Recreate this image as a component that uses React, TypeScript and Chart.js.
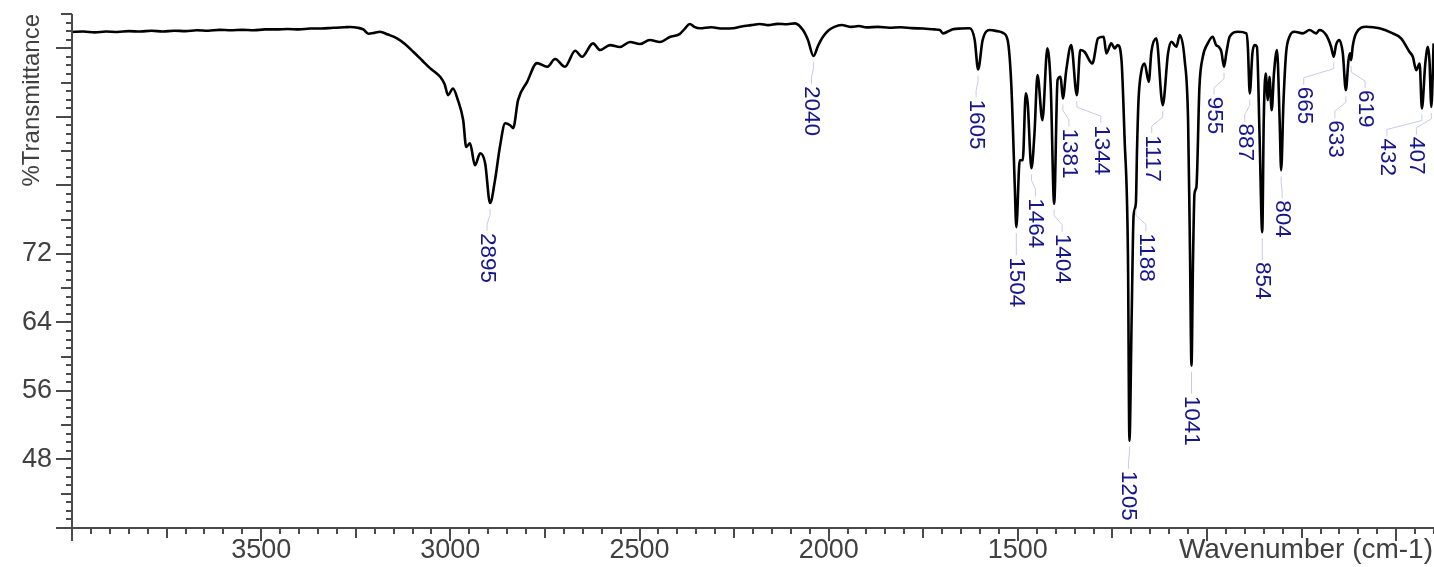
import React, { useEffect, useRef } from 'react';
import { Chart, registerables } from 'chart.js';

Chart.register(...registerables);

// ---- data ----
const wavenumbers = [
  4000, 3970, 3940, 3910, 3880, 3850, 3820, 3790, 3760, 3730, 3700, 3670, 3640, 3610, 3580, 3550, 3520, 3490,
  3460, 3430, 3400, 3370, 3340, 3310, 3280, 3265, 3245, 3230, 3217, 3200, 3186, 3165, 3141, 3120, 3098, 3075,
  3053, 3040, 3027, 3015, 3006, 2993, 2980, 2966, 2958, 2948, 2935, 2921, 2908, 2895, 2882, 2869, 2855, 2842,
  2834, 2821, 2797, 2771, 2744, 2723, 2697, 2670, 2652, 2623, 2604, 2578, 2552, 2525, 2499, 2473, 2446, 2420,
  2394, 2380, 2367, 2355, 2341, 2310, 2280, 2253, 2230, 2205, 2182, 2160, 2135, 2110, 2089, 2068, 2055, 2040,
  2028, 2015, 2000, 1985, 1966, 1940, 1920, 1900, 1870, 1840, 1810, 1780, 1750, 1720, 1706, 1698, 1685, 1672,
  1650, 1627, 1614, 1605, 1593, 1574, 1555, 1540, 1527, 1517, 1508, 1504, 1495, 1487, 1479, 1474, 1464, 1456,
  1448, 1435, 1422, 1413, 1404, 1395, 1387, 1381, 1372, 1359, 1344, 1335, 1324, 1303, 1288, 1273, 1266, 1253,
  1244, 1236, 1226, 1218, 1209, 1205, 1199, 1194, 1188, 1185, 1181, 1173, 1165, 1154, 1147, 1134, 1117, 1103,
  1094, 1081, 1072, 1059, 1050, 1045, 1041, 1037, 1033, 1028, 1020, 1011, 998, 985, 976, 969, 962, 955,
  949, 940, 918, 896, 892, 887, 880, 874, 868, 861, 854, 850, 845, 839, 835, 829, 823, 815,
  808, 804, 798, 791, 782, 769, 747, 729, 711, 703, 685, 672, 665, 659, 650, 641, 633, 626,
  622, 619, 615, 606, 579, 544, 509, 487, 465, 456, 447, 438, 432, 423, 416, 412, 407, 401,
];

const transmittance = [
  97.9, 97.95, 97.85, 97.95, 97.9, 98.0, 97.95, 98.05, 97.95, 98.05, 98.0, 98.1, 98.05, 98.15, 98.1, 98.15, 98.1, 98.2,
  98.2, 98.25, 98.2, 98.3, 98.3, 98.4, 98.45, 98.48, 98.4, 98.2, 97.7, 97.8, 97.93, 97.6, 97.16, 96.5, 95.59, 94.6,
  93.65, 93.2, 92.67, 91.8, 90.53, 91.31, 89.94, 87.6, 84.48, 84.91, 82.34, 83.74, 82.57, 77.93, 80.58, 84.48, 87.25, 87.02,
  86.67, 89.94, 92.08, 94.27, 93.84, 94.74, 93.84, 95.71, 95.01, 96.57, 95.79, 96.37, 96.14, 96.73, 96.49, 96.96, 96.73, 97.31,
  97.66, 98.3, 98.83, 98.5, 98.33, 98.45, 98.3, 98.33, 98.55, 98.7, 98.83, 98.7, 98.85, 98.8, 98.91, 98.13, 97.0, 95.09,
  96.3, 97.35, 98.1, 98.5, 98.71, 98.5, 98.6, 98.44, 98.5, 98.4, 98.45, 98.35, 98.3, 98.2, 98.13, 97.74, 97.95, 98.21,
  98.3, 98.33, 96.96, 93.53, 96.96, 98.13, 98.0, 97.81, 96.96, 91.5, 79.8, 75.12, 82.92, 82.92, 90.73, 89.59, 81.99, 86.08,
  92.87, 87.6, 95.99, 91.5, 77.86, 92.28, 92.67, 90.14, 93.45, 96.37, 90.53, 95.79, 95.59, 94.23, 97.16, 97.35, 95.4, 96.57,
  95.99, 96.37, 94.62, 85.65, 72.05, 50.18, 65.0, 76.5, 77.9, 84.1, 89.94, 93.45, 94.23, 92.08, 95.59, 97.16, 89.36, 95.4,
  96.76, 96.18, 97.54, 94.62, 87.6, 72.4, 58.95, 71.2, 79.06, 79.8, 91.5, 95.01, 96.57, 97.35, 96.37, 96.18, 95.59, 93.84,
  95.4, 97.35, 97.93, 97.74, 96.18, 90.73, 95.4, 96.37, 96.18, 85.65, 74.54, 87.6, 93.06, 89.94, 92.67, 88.77, 93.06, 95.79,
  87.6, 81.75, 89.59, 95.4, 97.35, 97.93, 97.74, 98.13, 97.74, 98.13, 97.54, 96.18, 95.01, 96.37, 96.96, 95.4, 91.11, 94.62,
  95.4, 94.62, 96.18, 97.74, 98.51, 98.33, 97.74, 97.16, 95.59, 95.01, 93.45, 94.23, 88.97, 94.23, 96.18, 94.62, 89.16, 96.57,
];

const peakLabels = [2895, 2040, 1605, 1504, 1464, 1404, 1381, 1344, 1205, 1188, 1117, 1041, 955, 887, 854, 804, 665, 633, 619, 432, 407];
const xTickLabels = [3500, 3000, 2500, 2000, 1500];
const yTickLabels = [72, 64, 56, 48];
const xTitle = 'Wavenumber (cm-1)';
const yTitle = '%Transmittance';

// ---- layout / style (kept apart from data) ----
const peakLabelShift = [-3, -2, -2, 0, 4, 8, 6, 24, -1, 10, -11, 0, -10, -5, 0, 1, -30, -11, 14, -35, -15];
const LABEL_GAP = 30;
const FONT = '"Liberation Sans", Arial, Helvetica, sans-serif';
const AXIS_COLOR = '#4a4a4a';
const TEXT_COLOR = '#404040';
const PEAK_COLOR = '#16168c';
const LEADER_COLOR = '#c9c9ee';
const TICK_FONT_SIZE = 27;
const X_TITLE_FONT_SIZE = 28;
const X_TICK_PAD = 6;

const axisPlugin = {
  id: 'irAxes',
  afterDraw(chart: any) {
    const { ctx, chartArea, scales } = chart;
    const x = scales.x;
    const y = scales.y;
    ctx.save();
    ctx.strokeStyle = AXIS_COLOR;
    ctx.lineWidth = 2;
    ctx.lineCap = 'butt';
    ctx.beginPath();
    ctx.moveTo(chartArea.left, chartArea.top);
    ctx.lineTo(chartArea.left, chartArea.bottom);
    ctx.lineTo(chartArea.right, chartArea.bottom);
    ctx.stroke();
    ctx.beginPath();
    for (let v = 400; v <= 4000; v += 50) {
      const px = Math.round(x.getPixelForValue(v));
      const len = v % 500 === 0 ? 13 : v % 250 === 0 ? 10 : 6;
      ctx.moveTo(px, chartArea.bottom);
      ctx.lineTo(px, chartArea.bottom + len);
    }
    for (let v = 40; v <= 100; v += 1) {
      const py = Math.round(y.getPixelForValue(v));
      const len = v % 8 === 0 ? 16 : v % 4 === 0 ? 11 : 6;
      ctx.moveTo(chartArea.left, py);
      ctx.lineTo(chartArea.left - len, py);
    }
    ctx.stroke();
    // x-axis title, on the tick-label row at the right end
    ctx.fillStyle = TEXT_COLOR;
    ctx.font = X_TITLE_FONT_SIZE + 'px ' + FONT;
    ctx.textAlign = 'right';
    ctx.textBaseline = 'middle';
    ctx.fillText(xTitle, chartArea.right - 1, chartArea.bottom + X_TICK_PAD + (TICK_FONT_SIZE * 1.2) / 2);
    ctx.restore();
  },
};

const peakPlugin = {
  id: 'irPeaks',
  afterDraw(chart: any) {
    const { ctx, scales } = chart;
    const x = scales.x;
    const y = scales.y;
    ctx.save();
    ctx.font = '22.5px ' + FONT;
    peakLabels.forEach((w, i) => {
      let bestT = Infinity;
      wavenumbers.forEach((ww, j) => {
        if (Math.abs(ww - w) <= 3 && transmittance[j] < bestT) bestT = transmittance[j];
      });
      const px = x.getPixelForValue(w);
      const py = y.getPixelForValue(bestT);
      const dx = peakLabelShift[i];
      const top = py + LABEL_GAP;
      ctx.strokeStyle = LEADER_COLOR;
      ctx.lineWidth = 1;
      ctx.beginPath();
      ctx.moveTo(px, py + 6);
      if (dx !== 0) {
        ctx.lineTo(px, py + 12);
        ctx.lineTo(px + dx, top - 9);
      }
      ctx.lineTo(px + dx, top - 2);
      ctx.stroke();
      ctx.save();
      ctx.fillStyle = PEAK_COLOR;
      ctx.translate(px + dx, top);
      ctx.rotate(Math.PI / 2);
      ctx.textAlign = 'left';
      ctx.textBaseline = 'middle';
      ctx.fillText(String(w), 0, 0);
      ctx.restore();
    });
    ctx.restore();
  },
};

export default function App() {
  const canvasRef = useRef<HTMLCanvasElement | null>(null);

  useEffect(() => {
    const canvas = canvasRef.current;
    if (!canvas) return;
    const points = wavenumbers.map((w, i) => ({ x: w, y: transmittance[i] }));
    const chart = new Chart(canvas, {
      type: 'line',
      data: {
        datasets: [
          {
            data: points,
            borderColor: '#000000',
            borderWidth: 2.6,
            pointRadius: 0,
            cubicInterpolationMode: 'monotone',
            fill: false,
          },
        ],
      },
      options: {
        animation: false,
        responsive: false,
        devicePixelRatio: 1,
        layout: { padding: { top: 14, left: 0, right: 0, bottom: 0 } },
        plugins: { legend: { display: false }, tooltip: { enabled: false } },
        scales: {
          x: {
            type: 'linear',
            reverse: true,
            min: 400,
            max: 4000,
            grid: { display: false, drawTicks: false },
            border: { display: false },
            ticks: {
              stepSize: 50,
              autoSkip: false,
              maxRotation: 0,
              padding: X_TICK_PAD,
              color: TEXT_COLOR,
              font: { family: FONT, size: TICK_FONT_SIZE },
              callback: (v: any) => (xTickLabels.includes(Number(v)) ? String(v) : null),
            },
            title: { display: false },
            afterFit: (scale: any) => {
              scale.height = 39;
              scale.paddingLeft = 0;
              scale.paddingRight = 0;
            },
          },
          y: {
            type: 'linear',
            min: 40,
            max: 100,
            grid: { display: false, drawTicks: false },
            border: { display: false },
            ticks: {
              stepSize: 1,
              autoSkip: false,
              padding: 20,
              color: TEXT_COLOR,
              font: { family: FONT, size: TICK_FONT_SIZE },
              callback: (v: any) => (yTickLabels.includes(Number(v)) ? String(v) : null),
            },
            title: {
              display: true,
              text: yTitle,
              align: 'end',
              color: TEXT_COLOR,
              font: { family: FONT, size: 24 },
              padding: { top: 18, bottom: 0 },
            },
            afterFit: (scale: any) => {
              scale.width = 72;
              scale.paddingTop = 0;
              scale.paddingBottom = 0;
            },
          },
        },
      },
      plugins: [axisPlugin, peakPlugin],
    } as any);
    return () => chart.destroy();
  }, []);

  return (
    <div style={{ position: 'fixed', left: 0, top: 0, width: 1434, height: 567, background: '#ffffff' }}>
      <canvas ref={canvasRef} width={1434} height={567} style={{ display: 'block' }} />
    </div>
  );
}
